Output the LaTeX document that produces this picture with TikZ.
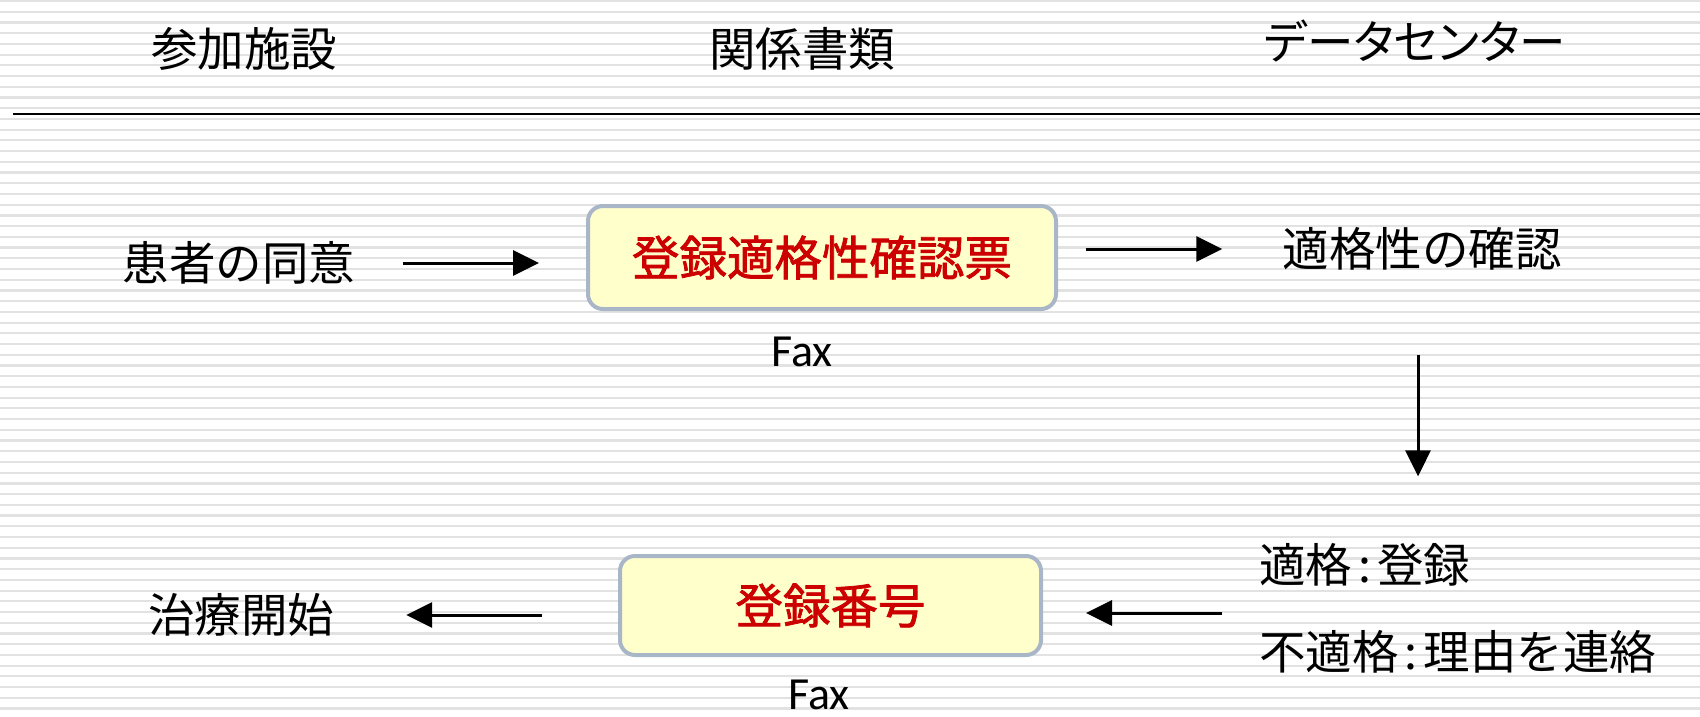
\documentclass[tikz,border=0pt]{standalone}
\usepackage{fontspec}
\setmainfont{Noto Sans CJK JP}
\newfontfamily\jpmed[FakeBold=1.6]{Noto Sans CJK JP}
\newfontfamily\jpprop[RawFeature=+palt]{Noto Sans CJK JP}
\newfontfamily\latinfont{Carlito}
\usetikzlibrary{arrows.meta}
\definecolor{stripecol}{HTML}{E2E2E2}
\definecolor{boxborder}{HTML}{A8B6C8}
\definecolor{boxfill}{HTML}{FFFFCC}
\definecolor{redtext}{HTML}{CC0000}
\tikzset{
  txt/.style={inner sep=0pt, font=\fontsize{46.5}{50}\selectfont},
  faxtxt/.style={inner sep=0pt, font=\latinfont\fontsize{46}{50}\selectfont},
  docbox/.style={draw=boxborder, line width=4pt, fill=boxfill, rounded corners=15pt,
    inner sep=0pt, text=redtext, font=\jpmed\fontsize{47.5}{50}\selectfont},
  arr/.style={line width=3pt, -{Triangle[length=26pt,width=25pt]}},
  stripe/.style={stripecol, line width=2.2pt}
}
\begin{document}
\begin{tikzpicture}[x=1pt,y=-1pt]
\useasboundingbox (0,0) rectangle (1700,716);
\foreach \i in {0,...,66} {
  \draw[stripe] (0,{1+10.72*\i}) -- (1700,{1+10.72*\i});
}
% header
\node[txt] (h1) at (244,49) {参加施設};
\node[txt] (h2) at (802,49) {関係書類};
\node[txt, font=\jpprop\fontsize{46.5}{50}\selectfont] (h3) at (1415,41) {データセンター};
\coordinate (rl) at (13,114);
\coordinate (rr) at (1700,114);
\draw[line width=2pt] (rl) -- (rr);
% row 1
\node[txt] (consent) at (239,263) {患者の同意};
\node[docbox, minimum width=468pt, minimum height=103pt] (box1) at (822,257.5) {登録適格性確認票};
\node[faxtxt] (fax1) at (802,352) {Fax};
\node[txt] (check) at (1422,249) {適格性の確認};
% row 2
\node[txt, anchor=west] (ok) at (1259,565) {適格\kern0.13em:\kern0.13em登録};
\node[txt, anchor=west] (ng) at (1259,652) {不適格\kern0.13em:\kern0.13em理由を連絡};
\node[docbox, minimum width=421pt, minimum height=99pt] (box2) at (830.5,605.5) {登録番号};
\node[faxtxt] (fax2) at (819,695) {Fax};
\node[txt] (start) at (241,615) {治療開始};
% arrows
\draw[arr, shorten <=48pt, shorten >=47pt] (consent.east) -- (consent.east -| box1.west);
\draw[arr, shorten <=28pt, shorten >=60pt] (box1.east |- check.west) -- (check.west);
\draw[arr, shorten <=84pt, shorten >=67pt] ([xshift=-4pt]check.south) -- ([xshift=-4pt]check.south |- ok.north);
\coordinate (dc) at (1222,613);
\draw[arr, shorten >=43pt] (dc) -- (dc -| box2.east);
\draw[arr, shorten <=76pt, shorten >=72pt] (box2.west |- start.east) -- (start.east);
\end{tikzpicture}
\end{document}
